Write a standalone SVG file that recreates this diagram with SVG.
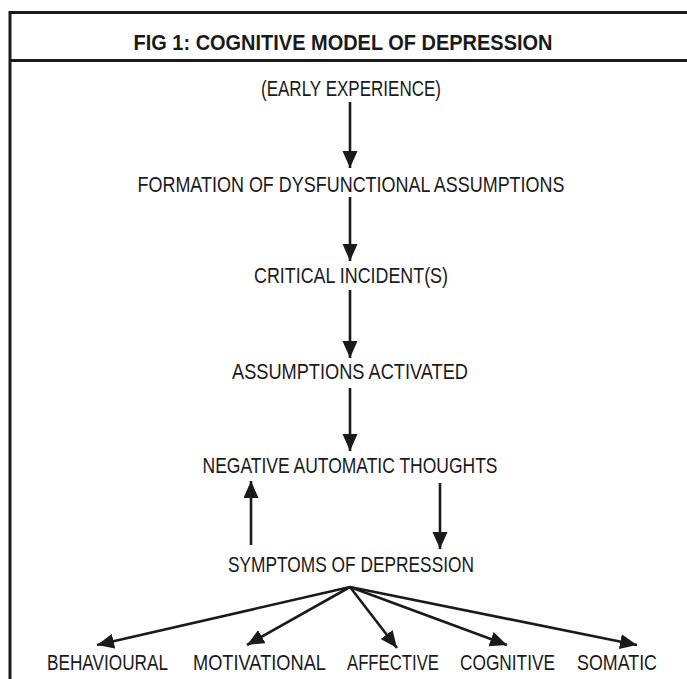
<svg xmlns="http://www.w3.org/2000/svg" width="687" height="679" viewBox="0 0 687 679">
<style>
.t{font-family:"Liberation Sans Narrow","Liberation Sans",Arial,sans-serif;font-size:21.5px;fill:#1a1a1a;text-anchor:middle}
.title{font-weight:bold;font-size:21.5px}
.c{stroke:#1a1a1a;stroke-width:2.6;fill:none;marker-end:url(#ah)}
.frame{stroke:#1a1a1a;stroke-width:3;fill:none}
</style>
<defs>
<marker id="ah" markerUnits="userSpaceOnUse" markerWidth="20" markerHeight="16" refX="17" refY="7.5" orient="auto">
<path d="M0,0 L17,7.5 L0,15 Z" fill="#1a1a1a"/>
</marker>
</defs>
<rect width="687" height="679" fill="#fff"/>
<g id="frame">
<path class="frame" d="M687,12.5 H10 V679"/>
<path class="frame" d="M10,60.5 H687"/>
</g>
<g id="title"><text class="t title" x="343" y="50" textLength="419" lengthAdjust="spacingAndGlyphs">FIG 1: COGNITIVE MODEL OF DEPRESSION</text></g>
<g id="n1"><text class="t" x="351" y="96" textLength="180" lengthAdjust="spacingAndGlyphs">(EARLY EXPERIENCE)</text></g>
<g id="n2"><text class="t" x="351" y="192" textLength="427" lengthAdjust="spacingAndGlyphs">FORMATION OF DYSFUNCTIONAL ASSUMPTIONS</text></g>
<g id="n3"><text class="t" x="351" y="283" textLength="194" lengthAdjust="spacingAndGlyphs">CRITICAL INCIDENT(S)</text></g>
<g id="n4"><text class="t" x="350" y="379" textLength="236" lengthAdjust="spacingAndGlyphs">ASSUMPTIONS ACTIVATED</text></g>
<g id="n5"><text class="t" x="350" y="473" textLength="295" lengthAdjust="spacingAndGlyphs">NEGATIVE AUTOMATIC THOUGHTS</text></g>
<g id="n6"><text class="t" x="351" y="572" textLength="246" lengthAdjust="spacingAndGlyphs">SYMPTOMS OF DEPRESSION</text></g>
<g id="n7"><text class="t" x="107.5" y="670" textLength="121" lengthAdjust="spacingAndGlyphs">BEHAVIOURAL</text></g>
<g id="n8"><text class="t" x="259.5" y="670" textLength="133" lengthAdjust="spacingAndGlyphs">MOTIVATIONAL</text></g>
<g id="n9"><text class="t" x="393" y="670" textLength="92" lengthAdjust="spacingAndGlyphs">AFFECTIVE</text></g>
<g id="n10"><text class="t" x="507.5" y="670" textLength="95" lengthAdjust="spacingAndGlyphs">COGNITIVE</text></g>
<g id="n11"><text class="t" x="617" y="670" textLength="80" lengthAdjust="spacingAndGlyphs">SOMATIC</text></g>
<g id="connectors">
<line class="c" x1="350" y1="102" x2="350" y2="168"/>
<line class="c" x1="350" y1="197" x2="350" y2="261"/>
<line class="c" x1="350" y1="290" x2="350" y2="358"/>
<line class="c" x1="350" y1="388" x2="350" y2="451"/>
<line class="c" x1="251" y1="545" x2="251" y2="481"/>
<line class="c" x1="440" y1="483" x2="440" y2="549"/>
<line class="c" x1="350" y1="587" x2="97" y2="645"/>
<line class="c" x1="350" y1="587" x2="247" y2="645"/>
<line class="c" x1="350" y1="587" x2="397" y2="648"/>
<line class="c" x1="350" y1="587" x2="507" y2="645"/>
<line class="c" x1="350" y1="587" x2="637" y2="645"/>
</g>
</svg>
